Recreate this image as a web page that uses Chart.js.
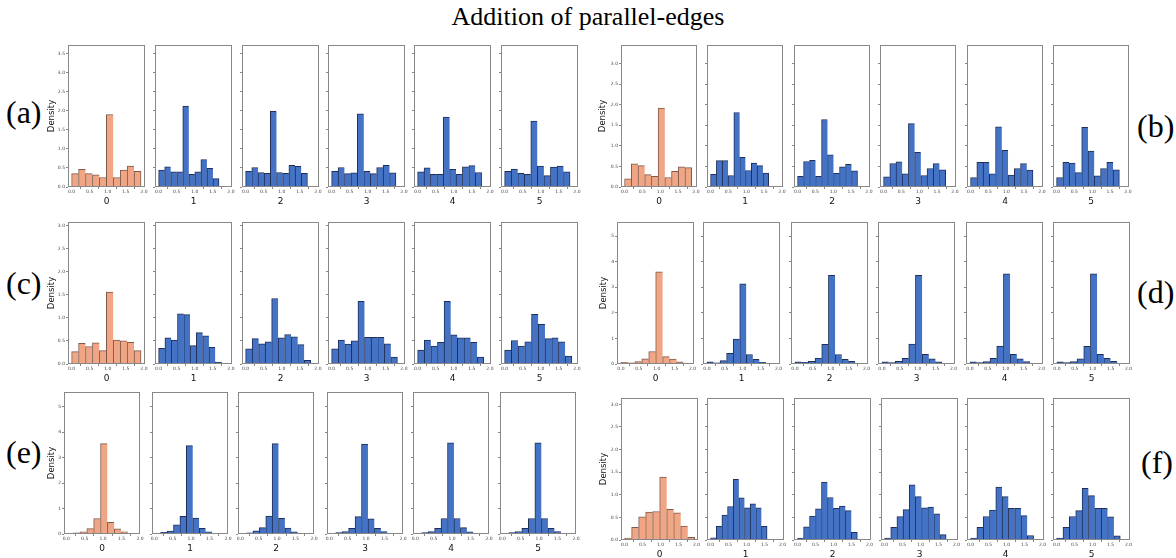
<!DOCTYPE html>
<html><head><meta charset="utf-8">
<script src="https://cdn.jsdelivr.net/npm/chart.js@4.4.1/dist/chart.umd.min.js"></script>
<style>
html,body{margin:0;padding:0;background:#fff;}
body{width:1176px;height:558px;position:relative;overflow:hidden;}
canvas{position:absolute;}
.lbl{position:absolute;font-family:'Liberation Serif',serif;color:#000;white-space:nowrap;}
</style></head><body>
<div class="lbl" style="left:0;width:1176px;text-align:center;top:4px;font-size:26px;line-height:26px;">Addition of parallel-edges</div>
<div class="lbl" style="left:6px;top:96px;font-size:32px;line-height:32px;">(a)</div>
<div class="lbl" style="left:1137px;top:110px;font-size:32px;line-height:32px;">(b)</div>
<div class="lbl" style="left:6px;top:267px;font-size:32px;line-height:32px;">(c)</div>
<div class="lbl" style="left:1137px;top:276px;font-size:32px;line-height:32px;">(d)</div>
<div class="lbl" style="left:6px;top:436px;font-size:32px;line-height:32px;">(e)</div>
<div class="lbl" style="left:1141px;top:446px;font-size:32px;line-height:32px;">(f)</div>
<script>
// ---------- data ----------
const subplotNames = ['0', '1', '2', '3', '4', '5'];
const xTickValues = [0, 0.5, 1, 1.5, 2];
const yTicksA = [0, 0.5, 1, 1.5, 2, 2.5, 3, 3.5];
const yTicksB = [0, 0.5, 1, 1.5, 2, 2.5, 3];
const yTicksC = [0, 0.5, 1, 1.5, 2, 2.5, 3];
const yTicksD = [0, 1, 2, 3, 4, 5];
const yTicksE = [0, 1, 2, 3, 4, 5];
const yTicksF = [0, 0.5, 1, 1.5, 2, 2.5, 3];

const binStart = 0;
const binWidthA = [0.192, 0.167, 0.171, 0.178, 0.177, 0.181];
const binWidthB = [0.188, 0.163, 0.168, 0.174, 0.175, 0.176];
const binWidthC = [0.192, 0.174, 0.180, 0.182, 0.183, 0.186];
const binWidthD = [0.194, 0.183, 0.187, 0.187, 0.187, 0.187];
const binWidthE = [0.186, 0.174, 0.173, 0.175, 0.175, 0.177];
const binWidthF = [0.195, 0.157, 0.166, 0.171, 0.175, 0.177];

const densityA = [
  [0.35, 0.46, 0.35, 0.32, 0.25, 1.90, 0.25, 0.44, 0.55, 0.41],
  [0.44, 0.53, 0.40, 0.40, 2.12, 0.33, 0.40, 0.72, 0.49, 0.22],
  [0.41, 0.51, 0.38, 0.36, 1.98, 0.38, 0.36, 0.57, 0.54, 0.36],
  [0.41, 0.51, 0.35, 0.37, 1.92, 0.41, 0.35, 0.51, 0.57, 0.37],
  [0.40, 0.50, 0.33, 0.33, 1.83, 0.46, 0.33, 0.53, 0.56, 0.38],
  [0.41, 0.47, 0.36, 0.33, 1.73, 0.55, 0.30, 0.52, 0.55, 0.40]
];
const densityB = [
  [0.20, 0.56, 0.52, 0.30, 0.26, 1.92, 0.23, 0.38, 0.49, 0.47],
  [0.31, 0.64, 0.64, 0.28, 1.81, 0.72, 0.40, 0.58, 0.52, 0.34],
  [0.26, 0.62, 0.65, 0.26, 1.64, 0.78, 0.33, 0.49, 0.55, 0.39],
  [0.25, 0.57, 0.61, 0.32, 1.54, 0.84, 0.28, 0.45, 0.57, 0.42],
  [0.23, 0.60, 0.60, 0.32, 1.46, 0.89, 0.29, 0.45, 0.57, 0.41],
  [0.23, 0.60, 0.58, 0.35, 1.45, 0.87, 0.27, 0.45, 0.60, 0.42]
];
const densityC = [
  [0.27, 0.45, 0.38, 0.46, 0.29, 1.56, 0.52, 0.50, 0.47, 0.29],
  [0.34, 0.57, 0.52, 1.09, 1.07, 0.40, 0.68, 0.61, 0.36, 0.04],
  [0.33, 0.55, 0.44, 0.48, 1.42, 0.57, 0.64, 0.59, 0.42, 0.08],
  [0.33, 0.52, 0.43, 0.50, 1.36, 0.58, 0.58, 0.58, 0.44, 0.15],
  [0.30, 0.52, 0.39, 0.47, 1.36, 0.63, 0.57, 0.57, 0.47, 0.15],
  [0.30, 0.51, 0.39, 0.48, 1.08, 0.86, 0.55, 0.57, 0.48, 0.17]
];
const densityD = [
  [0.07, 0.05, 0.09, 0.20, 0.49, 3.60, 0.29, 0.19, 0.08, 0.04],
  [0.08, 0.05, 0.13, 0.42, 0.97, 3.13, 0.37, 0.18, 0.07, 0.01],
  [0.08, 0.07, 0.10, 0.23, 0.77, 3.47, 0.37, 0.18, 0.10, 0.02],
  [0.08, 0.06, 0.10, 0.22, 0.78, 3.47, 0.38, 0.20, 0.08, 0.02],
  [0.08, 0.06, 0.09, 0.22, 0.70, 3.52, 0.38, 0.20, 0.09, 0.03],
  [0.08, 0.06, 0.09, 0.20, 0.69, 3.52, 0.38, 0.22, 0.10, 0.02]
];
const densityE = [
  [0.01, 0.05, 0.09, 0.21, 0.61, 3.55, 0.46, 0.20, 0.09, 0.02],
  [0.03, 0.07, 0.11, 0.36, 0.69, 3.47, 0.63, 0.22, 0.09, 0.02],
  [0.03, 0.05, 0.12, 0.25, 0.70, 3.55, 0.62, 0.23, 0.09, 0.01],
  [0.02, 0.06, 0.10, 0.22, 0.68, 3.53, 0.60, 0.22, 0.10, 0.02],
  [0.02, 0.06, 0.10, 0.22, 0.61, 3.58, 0.61, 0.25, 0.09, 0.02],
  [0.02, 0.06, 0.10, 0.22, 0.61, 3.58, 0.61, 0.22, 0.10, 0.02]
];
const densityF = [
  [0.04, 0.28, 0.51, 0.62, 0.63, 1.39, 0.68, 0.60, 0.31, 0.06],
  [0.05, 0.30, 0.55, 0.74, 1.34, 0.93, 0.71, 0.80, 0.71, 0.30],
  [0.04, 0.29, 0.53, 0.69, 1.28, 0.94, 0.70, 0.75, 0.65, 0.17],
  [0.04, 0.28, 0.52, 0.67, 1.22, 0.96, 0.71, 0.73, 0.58, 0.12],
  [0.04, 0.28, 0.52, 0.66, 1.17, 0.96, 0.70, 0.70, 0.54, 0.10],
  [0.04, 0.28, 0.52, 0.65, 1.14, 0.98, 0.70, 0.70, 0.51, 0.09]
];

// ---------- layout / style ----------
const ORANGE = '#f0a684', ORANGE_EDGE = '#7d5a4c';
const BLUE = '#4472c4', BLUE_EDGE = '#1f2e57';
const FRAME = '#888888';
const panels = [
  {dens: densityA, bins: binWidthA, yTicks: yTicksA, dec: 1, yMax: 3.72, xMin: -0.1, xMax: 2.03, top: 45, bottom: 187, lefts: [68,155,242,328,414,501], width: 77, padL: 21},
  {dens: densityB, bins: binWidthB, yTicks: yTicksB, dec: 1, yMax: 3.45, xMin: -0.1, xMax: 2.03, top: 45, bottom: 187, lefts: [621,707,794,880,967,1053], width: 76, padL: 23},
  {dens: densityC, bins: binWidthC, yTicks: yTicksC, dec: 1, yMax: 3.08, xMin: -0.1, xMax: 2.03, top: 222, bottom: 364, lefts: [68,155,242,328,414,501], width: 77, padL: 21},
  {dens: densityD, bins: binWidthD, yTicks: yTicksD, dec: 0, yMax: 5.55, xMin: -0.11, xMax: 2.04, top: 222, bottom: 364, lefts: [617,703,791,878,966,1053], width: 77, padL: 18},
  {dens: densityE, bins: binWidthE, yTicks: yTicksE, dec: 0, yMax: 5.58, xMin: -0.06, xMax: 2.0, top: 392, bottom: 534, lefts: [64,152,238,327,413,500], width: 76, padL: 17},
  {dens: densityF, bins: binWidthF, yTicks: yTicksF, dec: 1, yMax: 3.14, xMin: -0.1, xMax: 2.04, top: 398, bottom: 540, lefts: [621,707,794,881,967,1053], width: 77, padL: 22}
];

Chart.defaults.font.family = "'DejaVu Sans', sans-serif";

const framePlugin = {
  id: 'frame',
  afterDraw(chart) {
    const {ctx, chartArea: a} = chart;
    ctx.save();
    ctx.strokeStyle = FRAME;
    ctx.lineWidth = 1;
    ctx.strokeRect(Math.round(a.left) + 0.5, Math.round(a.top) + 0.5,
                   Math.round(a.right - a.left) - 1, Math.round(a.bottom - a.top) - 1);
    ctx.restore();
  }
};

function makeChart(p, k) {
  const first = k === 0;
  const padL = first ? p.padL : 8;
  const padT = 4, padR = 8, padB = 20;
  const h = p.bottom - p.top;
  const cv = document.createElement('canvas');
  cv.width = padL + p.width + padR;
  cv.height = padT + h + padB;
  cv.style.left = (p.lefts[k] - padL) + 'px';
  cv.style.top = (p.top - padT) + 'px';
  document.body.appendChild(cv);
  const vals = p.dens[k];
  const bw = p.bins[k];
  const pts = vals.map((v, i) => ({x: binStart + (i + 0.5) * bw, y: v}));
  const n = vals.length;
  new Chart(cv, {
    type: 'bar',
    data: {datasets: [{
      data: pts,
      backgroundColor: first ? ORANGE : BLUE,
      borderColor: first ? ORANGE_EDGE : BLUE_EDGE,
      borderWidth: c => c.dataIndex === n - 1 ? {left: 1, top: 1, right: 1, bottom: 0} : {left: 1, top: 1, right: 0, bottom: 0},
      borderSkipped: false,
      barPercentage: 1,
      categoryPercentage: 1
    }]},
    options: {
      responsive: false, animation: false, devicePixelRatio: 1,
      layout: {padding: {left: 0, top: padT, right: padR, bottom: 0}},
      plugins: {legend: {display: false}, tooltip: {enabled: false}},
      scales: {
        x: {
          type: 'linear', min: p.xMin, max: p.xMax, offset: false,
          afterBuildTicks: ax => { ax.ticks = xTickValues.map(v => ({value: v})); },
          afterFit: ax => { ax.height = padB; },
          grid: {display: true, drawOnChartArea: false, drawTicks: true, tickLength: 2, color: FRAME},
          border: {display: false},
          ticks: {font: {size: 4.5}, color: '#444', padding: 0, maxRotation: 0, autoSkip: false,
                  callback: v => Number(v).toFixed(1)},
          title: {display: true, text: subplotNames[k], font: {size: 9}, color: '#111', padding: 0}
        },
        y: {
          min: 0, max: p.yMax,
          afterBuildTicks: ax => { ax.ticks = p.yTicks.map(v => ({value: v})); },
          afterFit: ax => { ax.width = padL; },
          grid: {display: true, drawOnChartArea: false, drawTicks: true, tickLength: 2, color: FRAME},
          border: {display: false},
          ticks: {display: first, font: {size: 4.5}, color: '#444', padding: 1,
                  callback: v => Number(v).toFixed(p.dec)},
          title: {display: first, text: 'Density', font: {size: 8.5}, color: '#111', padding: 0}
        }
      }
    },
    plugins: [framePlugin]
  });
}

panels.forEach(p => subplotNames.forEach((_, k) => makeChart(p, k)));
</script>
</body></html>
